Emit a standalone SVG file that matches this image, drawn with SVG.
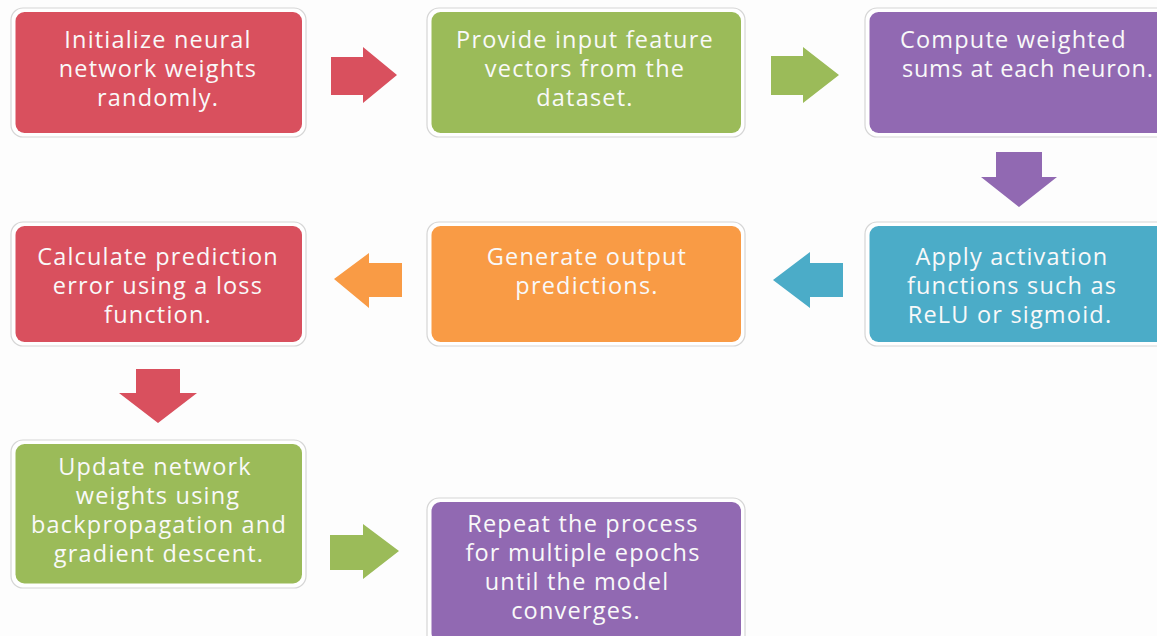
<svg xmlns="http://www.w3.org/2000/svg" width="1157" height="636" viewBox="0 0 1157 636">
<style>
.outer{fill:#ffffff;stroke:#d6d6d6;stroke-width:1.2}
.t{font-family:"Open Sans","DejaVu Sans",sans-serif;font-size:23.5px;letter-spacing:1.2px;fill:#f9f9f9;text-anchor:middle}
.ts{text-anchor:start}
.red{fill:#d9505e}
.green{fill:#9bbb59}
.purple{fill:#9169b2}
.blue{fill:#4bacc8}
.orange{fill:#f99b45}
</style>
<rect width="1157" height="636" fill="#fdfdfd"/>
<g id="n1">
<rect class="outer" x="11" y="8" width="295" height="129" rx="12"/>
<rect class="red" x="15.5" y="12" width="286.5" height="121" rx="9"/>
<text class="t" x="158" y="48">Initialize neural</text>
<text class="t" x="158" y="77">network weights</text>
<text class="t" x="158" y="106">randomly.</text>
</g>
<g id="n2">
<rect class="outer" x="427" y="8" width="318" height="129" rx="12"/>
<rect class="green" x="431.5" y="12" width="309.5" height="121" rx="9"/>
<text class="t" x="585" y="48">Provide input feature</text>
<text class="t" x="585" y="77">vectors from the</text>
<text class="t" x="585" y="106">dataset.</text>
</g>
<g id="n3">
<rect class="outer" x="865" y="8" width="310" height="129" rx="12"/>
<rect class="purple" x="869.5" y="12" width="300" height="121" rx="9"/>
<text class="t ts" x="900" y="48">Compute weighted</text>
<text class="t ts" x="902" y="77" textLength="252" lengthAdjust="spacing">sums at each neuron.</text>
</g>
<g id="n4">
<rect class="outer" x="11" y="222" width="295" height="124" rx="12"/>
<rect class="red" x="15.5" y="226" width="286.5" height="116" rx="9"/>
<text class="t" x="158" y="265">Calculate prediction</text>
<text class="t" x="158" y="294">error using a loss</text>
<text class="t" x="158" y="323">function.</text>
</g>
<g id="n5">
<rect class="outer" x="427" y="222" width="318" height="124" rx="12"/>
<rect class="orange" x="431.5" y="226" width="309.5" height="116" rx="9"/>
<text class="t" x="587" y="265">Generate output</text>
<text class="t" x="587" y="294">predictions.</text>
</g>
<g id="n6">
<rect class="outer" x="865" y="222" width="310" height="124" rx="12"/>
<rect class="blue" x="869.5" y="226" width="300" height="116" rx="9"/>
<text class="t" x="1012" y="265">Apply activation</text>
<text class="t" x="1012" y="294">functions such as</text>
<text class="t" x="1010" y="323">ReLU or sigmoid.</text>
</g>
<g id="n7">
<rect class="outer" x="11" y="440" width="295" height="148" rx="12"/>
<rect class="green" x="15.5" y="444" width="286.5" height="139.5" rx="9"/>
<text class="t" x="155" y="475">Update network</text>
<text class="t" x="158" y="504">weights using</text>
<text class="t" x="159" y="533">backpropagation and</text>
<text class="t" x="159" y="562">gradient descent.</text>
</g>
<g id="n8">
<rect class="outer" x="427" y="498" width="318" height="150" rx="12"/>
<rect class="purple" x="431.5" y="502" width="309.5" height="140" rx="9"/>
<text class="t" x="583" y="532">Repeat the process</text>
<text class="t" x="583" y="561">for multiple epochs</text>
<text class="t" x="577" y="590">until the model</text>
<text class="t" x="576" y="619">converges.</text>
</g>
<g id="connectors">
<polygon class="red" points="331,57 363,57 363,47 397,75 363,103 363,95 331,95"/>
<polygon class="green" points="771,56 803,56 803,47 839,75 803,103 803,95 771,95"/>
<polygon class="purple" points="996,152 1042,152 1042,177 1057,177 1019,207 981,177 996,177"/>
<polygon class="blue" points="843,263 810,263 810,252 773,280 810,308 810,297 843,297"/>
<polygon class="orange" points="402,263 369,263 369,253 334,279 369,308 369,297 402,297"/>
<polygon class="red" points="136,369 180,369 180,393 197,393 158,423 119,393 136,393"/>
<polygon class="green" points="330,535 363,535 363,524 399,551 363,579 363,570 330,570"/>
</g>
</svg>
